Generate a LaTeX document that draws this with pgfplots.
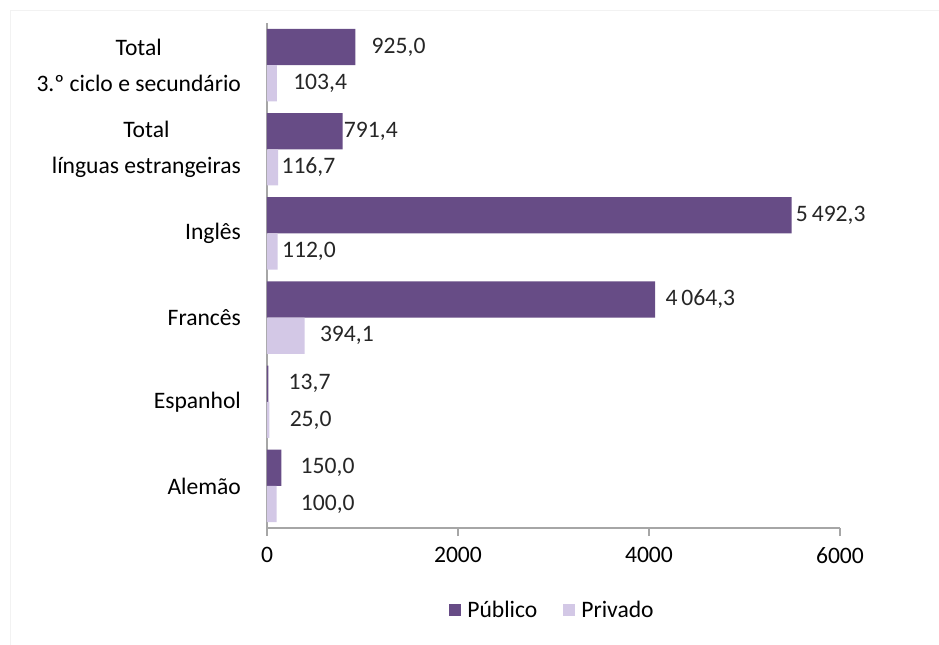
\documentclass[border=0pt]{standalone}
\usepackage{pgfplots}
\pgfplotsset{compat=1.18}
\usepackage{pgfplotstable}
\usepackage{fontspec}
\setmainfont{Carlito}
\definecolor{publico}{HTML}{674C86}
\definecolor{privado}{HTML}{D3C8E6}
\definecolor{axisgray}{HTML}{A6A6A6}

\pgfplotstableread{
y pub dxa priv dxb
0 925.0  8.0  103.4 8.0
1 791.4  0.5  116.7 1.5
2 5492.3 2.0  112.0 2.0
3 4064.3 5.0  394.1 7.5
4 13.7   10.0 25.0  10.0
5 150.0  9.5  100.0 12.0
}\datatable

\begin{document}
\begin{tikzpicture}
\begin{axis}[
  at={(0pt,0pt)}, anchor=south west,
  scale only axis, width=286.5pt, height=252.5pt,
  xbar, y dir=reverse,
  xmin=0, xmax=6000,
  ymin=-0.5, ymax=5.5,
  bar width=0.43,
  xtick={0,2000,4000,6000},
  /pgf/number format/1000 sep={},
  /pgf/number format/assume math mode=true,
  ytick={0,1,2,3,4,5},
  yticklabels={{Total\\3.º ciclo e secundário},{Total\\línguas estrangeiras},Inglês,Francês,Espanhol,Alemão},
  yticklabel style={align=center, xshift=-5.5pt, font=\fontsize{11.8}{18}\selectfont},
  xticklabel style={font=\fontsize{11.8}{14}\selectfont, yshift=-2pt},
  major y tick style={draw=none},
  x tick style={axisgray, line width=0.6pt},
  tick align=outside, major tick length=4pt,
  axis x line*=bottom, axis y line*=left,
  axis line style={axisgray, line width=0.6pt, -},
  clip=false,
  nodes near coords={\pgfmathprintnumber[fixed,fixed zerofill,precision=1,use comma,1000 sep={\,},assume math mode=true]{\pgfplotspointmeta}},
  every node near coord/.append style={font=\fontsize{11.8}{14}\selectfont, text=black!85, anchor=west, inner sep=0pt, xshift=\dx pt},
  legend style={at={(0.5,-0.163)}, anchor=center, draw=none, legend columns=2,
    font=\fontsize{11.8}{14}\selectfont, inner sep=0pt,
    /tikz/every odd column/.append style={column sep=1pt},
    /tikz/every even column/.append style={column sep=11pt}},
  legend image code/.code={\fill[#1] (0pt,-3pt) rectangle (6pt,3pt);},
]
\addplot[fill=publico, draw=none, bar shift=-0.215,
  visualization depends on={\thisrow{dxa} \as \dx}]
  table[x=pub, y=y] {\datatable};
\addlegendentry{Público}
\addplot[fill=privado, draw=none, bar shift=0.215,
  visualization depends on={\thisrow{dxb} \as \dx}]
  table[x=priv, y=y] {\datatable};
\addlegendentry{Privado}
\end{axis}
\draw[black!5] (-128.5pt,-60pt) -- (-128.5pt,259pt) -- (340pt,259pt);
\pgfresetboundingbox
\useasboundingbox (-133.5pt,-58pt) rectangle (336pt,264pt);
\end{tikzpicture}
\end{document}
